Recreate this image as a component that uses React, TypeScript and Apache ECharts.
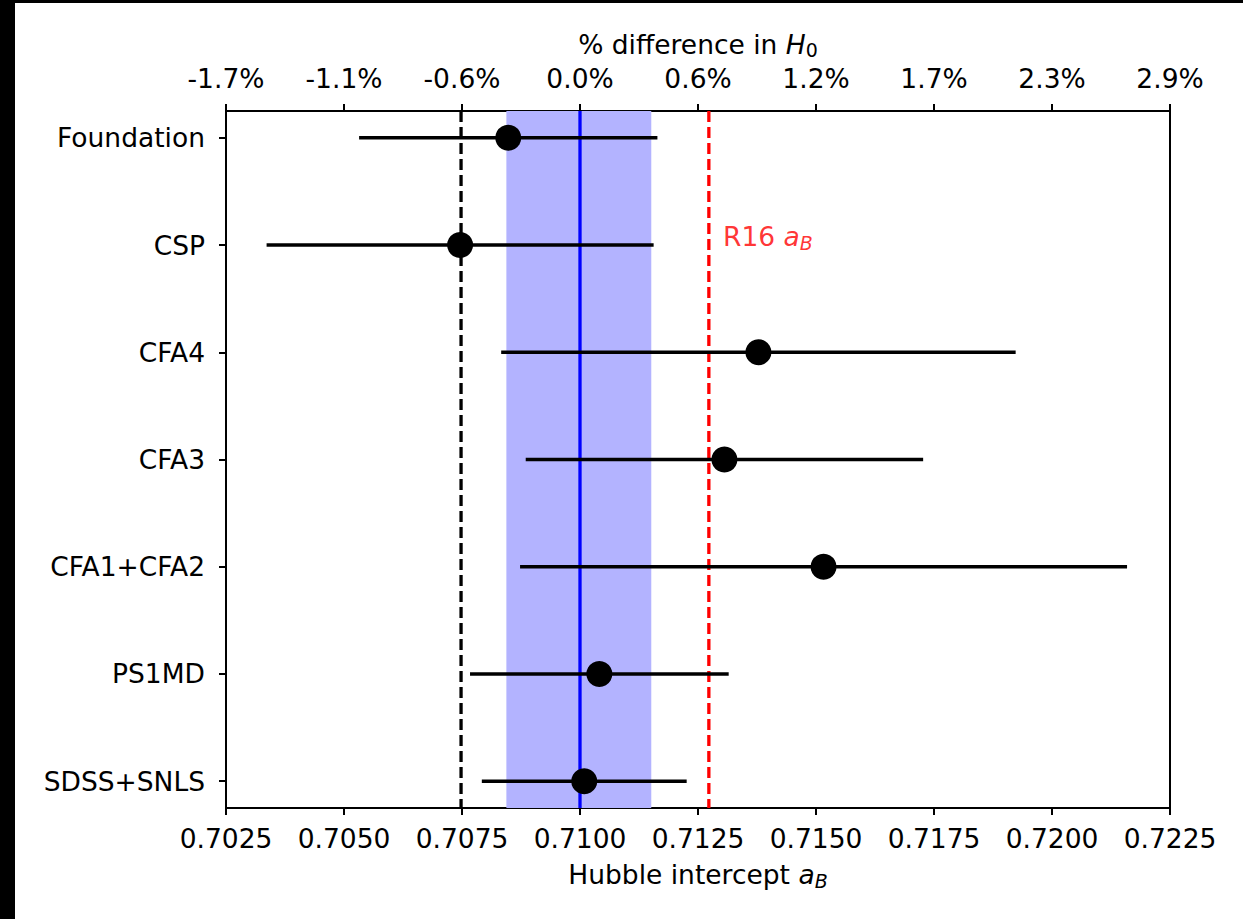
import React, { useEffect, useRef } from "react";
import * as echarts from "echarts";

const categories = ["Foundation", "CSP", "CFA4", "CFA3", "CFA1+CFA2", "PS1MD", "SDSS+SNLS"];
const intercepts = [0.70848, 0.70746, 0.71378, 0.71306, 0.71516, 0.71041, 0.71009];
const errors = [0.00316, 0.0041, 0.00545, 0.00421, 0.00643, 0.00274, 0.00217];

const fiducial = 0.71;
const bandLow = 0.70844;
const bandHigh = 0.71151;
const blackDashed = 0.70748;
const r16Intercept = 0.71273;
const r16LabelPos = [0.71302, 0.925];

const xMin = 0.7025;
const xMax = 0.7225;
const xStep = 0.0025;
const yMin = -0.25;
const yMax = 6.25;
const pctTickLabels = ["-1.7%", "-1.1%", "-0.6%", "0.0%", "0.6%", "1.2%", "1.7%", "2.3%", "2.9%"];

const FONT = "DejaVu Sans";
const FS = 26.5;
const SUB = 19;

function vline(x: number, color: string, dashed: boolean, z: number) {
  return {
    type: "line",
    z,
    data: [
      [x, yMin],
      [x, yMax],
    ],
    symbol: "none",
    silent: true,
    lineStyle: { color, width: 3.3, type: dashed ? [11, 5] : "solid" },
  };
}

export default function App() {
  const ref = useRef<HTMLDivElement>(null);
  useEffect(() => {
    const chart = echarts.init(ref.current!, null, { renderer: "svg" });
    const points = intercepts.map((v, i) => [v, i]);
    const bars = intercepts.map((v, i) => [v - errors[i], v + errors[i], i]);
    const subRich = {
      n: { fontFamily: FONT, fontSize: FS, color: "#000" },
      i: { fontFamily: FONT, fontSize: FS, fontStyle: "italic", color: "#000" },
      s: { fontFamily: FONT, fontSize: SUB, fontStyle: "italic", color: "#000", padding: [12, 0, 0, 0] },
      u: { fontFamily: FONT, fontSize: SUB, color: "#000", padding: [12, 0, 0, 0] },
    };
    chart.setOption({
      animation: false,
      backgroundColor: "#fff",
      textStyle: { fontFamily: FONT },
      graphic: [
        { type: "rect", shape: { x: 0, y: 0, width: 15, height: 919 }, style: { fill: "#000" }, z: 100 },
        { type: "rect", shape: { x: 0, y: 0, width: 1243, height: 3 }, style: { fill: "#000" }, z: 100 },
      ],
      grid: {
        left: 226,
        right: 73,
        top: 111,
        bottom: 111,
        show: true,
        borderColor: "#000",
        borderWidth: 2,
        backgroundColor: "transparent",
      },
      xAxis: [
        {
          type: "value",
          position: "bottom",
          min: xMin,
          max: xMax,
          interval: xStep,
          name: "{n|Hubble intercept }{i|a}{s|B}",
          nameLocation: "middle",
          nameGap: 51,
          nameTextStyle: { rich: subRich },
          axisLine: { onZero: false, lineStyle: { color: "#000", width: 2 } },
          axisTick: { length: 7, lineStyle: { color: "#000", width: 2 } },
          axisLabel: {
            fontFamily: FONT,
            fontSize: FS,
            color: "#000",
            margin: 17,
            formatter: (v: number) => v.toFixed(4),
          },
          splitLine: { show: false },
        },
        {
          type: "value",
          position: "top",
          min: xMin,
          max: xMax,
          interval: xStep,
          name: "{n|% difference in }{i|H}{u|0}",
          nameLocation: "middle",
          nameGap: 51,
          nameTextStyle: { rich: subRich },
          axisLine: { onZero: false, lineStyle: { color: "#000", width: 2 } },
          axisTick: { length: 7, lineStyle: { color: "#000", width: 2 } },
          axisLabel: {
            fontFamily: FONT,
            fontSize: FS,
            color: "#000",
            margin: 19.5,
            formatter: (_v: number, idx: number) => pctTickLabels[idx],
          },
          splitLine: { show: false },
        },
      ],
      yAxis: {
        type: "value",
        inverse: true,
        min: yMin,
        max: yMax,
        axisLine: { onZero: false, lineStyle: { color: "#000", width: 2 } },
        axisTick: {
          length: 7,
          lineStyle: { color: "#000", width: 2 },
          customValues: categories.map((_, i) => i),
        },
        axisLabel: {
          fontFamily: FONT,
          fontSize: FS,
          color: "#000",
          margin: 21,
          customValues: categories.map((_, i) => i),
          formatter: (v: number) => categories[Math.round(v)],
        },
        splitLine: { show: false },
      },
      series: [
        {
          type: "scatter",
          data: [],
          z: 1,
          silent: true,
          markArea: {
            silent: true,
            itemStyle: { color: "#b3b3ff" },
            data: [[{ xAxis: bandLow }, { xAxis: bandHigh }]],
          },
        },
        vline(fiducial, "#0000ff", false, 2),
        vline(blackDashed, "#000000", true, 2),
        vline(r16Intercept, "#ff0000", true, 2),
        {
          type: "custom",
          z: 3,
          data: bars,
          renderItem: (_params: any, api: any) => {
            const p1 = api.coord([api.value(0), api.value(2)]);
            const p2 = api.coord([api.value(1), api.value(2)]);
            return {
              type: "line",
              shape: { x1: p1[0], y1: p1[1], x2: p2[0], y2: p2[1] },
              style: { stroke: "#000", lineWidth: 3.5 },
            };
          },
        },
        {
          type: "scatter",
          z: 4,
          data: points,
          symbol: "circle",
          symbolSize: 26,
          itemStyle: { color: "#000", opacity: 1 },
        },
        {
          type: "scatter",
          z: 5,
          data: [r16LabelPos],
          symbolSize: 1,
          itemStyle: { color: "rgba(0,0,0,0)" },
          label: {
            show: true,
            position: "right",
            distance: 0,
            formatter: "{r|R16 }{i|a}{s|B}",
            rich: {
              r: { fontFamily: FONT, fontSize: FS, color: "#ff0000" },
              i: { fontFamily: FONT, fontSize: FS, fontStyle: "italic", color: "#ff0000" },
              s: { fontFamily: FONT, fontSize: SUB, fontStyle: "italic", color: "#ff0000", padding: [12, 0, 0, 0] },
            },
          },
        },
      ],
    });
    return () => chart.dispose();
  }, []);
  return (
    <div
      ref={ref}
      style={{ position: "fixed", left: 0, top: 0, width: 1243, height: 919 }}
    />
  );
}
